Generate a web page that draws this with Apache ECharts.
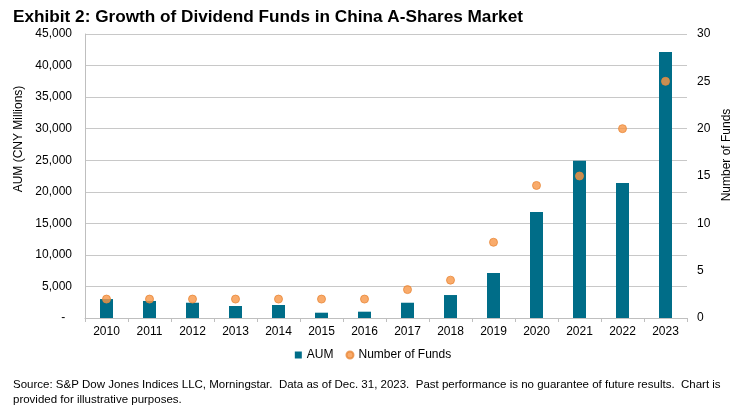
<!DOCTYPE html>
<html><head><meta charset="utf-8">
<script src="https://cdn.jsdelivr.net/npm/echarts@6/dist/echarts.min.js"></script>
<style>html,body{margin:0;padding:0;background:#fff}#c{width:746px;height:406px}</style>
</head><body><div id="c"></div>
<script>
const years = ['2010','2011','2012','2013','2014','2015','2016','2017','2018','2019','2020','2021','2022','2023'];
const aum = [3000,2700,2420,1900,2060,840,1000,2420,3640,7130,16800,24900,21400,42150];
const numFunds = [2,2,2,2,2,2,2,3,4,8,14,15,20,25];
const leftTicks = {min:0,max:45000,interval:5000};
const rightTicks = {min:0,max:30,interval:5};

const F = 'Arial, "Liberation Sans", sans-serif';
const chart = echarts.init(document.getElementById('c'));
chart.setOption({
  animation:false,
  backgroundColor:'#fff',
  title:[
    {text:'Exhibit 2: Growth of Dividend Funds in China A-Shares Market',left:8,top:4,
     textStyle:{fontFamily:F,fontSize:17.2,fontWeight:'bold',color:'#000'}},
    {text:'Source: S&P Dow Jones Indices LLC, Morningstar.  Data as of Dec. 31, 2023.  Past performance is no guarantee of future results.  Chart is\nprovided for illustrative purposes.',
     left:8,top:372,textStyle:{fontFamily:F,fontSize:11.5,fontWeight:'normal',color:'#000',lineHeight:15}}
  ],
  graphic:[
    {type:'text',x:19,y:139,rotation:Math.PI/2,
     style:{text:'AUM (CNY Millions)',font:'12px '+F,fill:'#000',align:'center',verticalAlign:'middle'}},
    {type:'text',x:727,y:155,rotation:Math.PI/2,
     style:{text:'Number of Funds',font:'12px '+F,fill:'#000',align:'center',verticalAlign:'middle'}}
  ],
  legend:{bottom:40,left:'center',itemGap:12,itemWidth:7,itemHeight:7,
    textStyle:{fontFamily:F,fontSize:12,color:'#000'},
    data:[{name:'AUM',icon:'rect'},{name:'Number of Funds',icon:'circle'}]},
  grid:{left:85,right:59,top:34,bottom:88},
  xAxis:{type:'category',data:years,boundaryGap:true,
    axisLine:{lineStyle:{color:'#bfbfbf'}},
    axisTick:{show:true,interval:0,length:4,lineStyle:{color:'#bfbfbf'}},
    axisLabel:{fontFamily:F,fontSize:12,color:'#000',margin:8}},
  yAxis:[
    {type:'value',min:leftTicks.min,max:leftTicks.max,interval:leftTicks.interval,
     axisLine:{show:true,lineStyle:{color:'#bfbfbf'}},axisTick:{show:false},
     splitLine:{lineStyle:{color:'#c8c8c8'}},
     axisLabel:{fontFamily:F,fontSize:12,color:'#000',margin:13,
       formatter:v=>v===0?'-  ':v.toLocaleString('en-US')}},
    {type:'value',min:rightTicks.min,max:rightTicks.max,interval:rightTicks.interval,
     axisLine:{show:false},axisTick:{show:false},splitLine:{show:false},
     axisLabel:{fontFamily:F,fontSize:12,color:'#000',margin:10}}
  ],
  series:[
    {name:'AUM',type:'bar',data:aum,barWidth:13,itemStyle:{color:'#006D88'}},
    {name:'Number of Funds',type:'scatter',yAxisIndex:1,data:numFunds,symbolSize:8,
     itemStyle:{color:'#F79646',borderColor:'#E8883A',borderWidth:1}}
  ]
});
</script></body></html>
